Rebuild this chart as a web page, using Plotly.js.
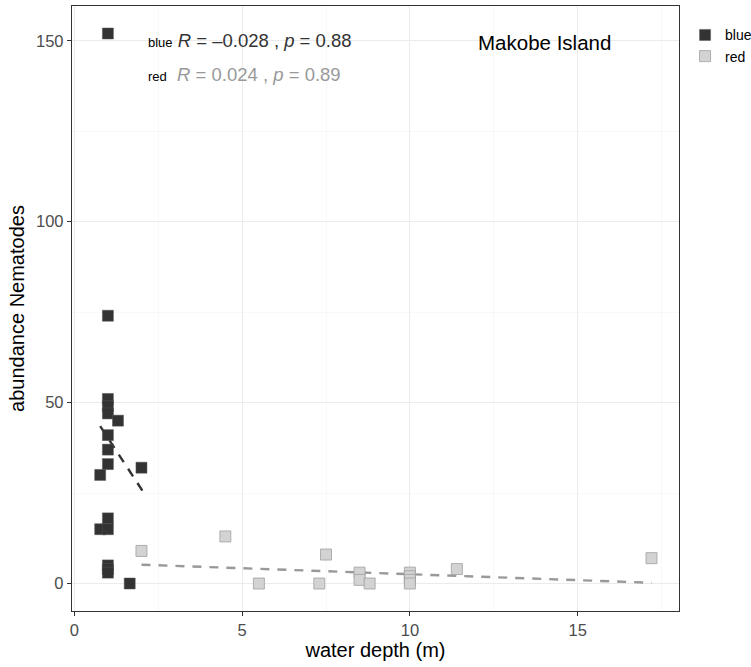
<!DOCTYPE html>
<html>
<head>
<meta charset="utf-8">
<script src="https://cdn.plot.ly/plotly-3.0.1.min.js"></script>
<style>html,body{margin:0;padding:0;background:#fff;}</style>
</head>
<body>
<div id="chart" style="width:751px;height:667px;"></div>
<script>
// Blue group (water depth m, abundance)
const blueX = [1, 1, 1, 1, 1, 1.3, 1, 1, 1, 0.77, 2.0, 1, 0.77, 1, 1, 1, 1, 1.65];
const blueY = [152, 74, 51, 49, 47, 45, 41, 37, 33, 30, 32, 18, 15, 15, 5, 4, 3, 0];
// Red group
const redX = [2.0, 4.5, 5.5, 7.3, 7.5, 8.5, 8.5, 8.8, 10, 10, 10, 10, 11.4, 17.2];
const redY = [9, 13, 0, 0, 8, 3, 1, 0, 3, 2, 1, 0, 4, 7];
// Fitted lines (endpoints)
const blueFitX = [0.77, 2.04];
const blueFitY = [43.5, 25.5];
const redFitX = [2.0, 17.2];
const redFitY = [5.2, 0.2];

const xTicks = [0, 5, 10, 15];
const yTicks = [0, 50, 100, 150];

const traces = [
  {x: blueFitX, y: blueFitY, mode: 'lines', showlegend: false, hoverinfo: 'skip',
   line: {color: '#333333', width: 2.4, dash: '9px,8px'}},
  {x: redFitX, y: redFitY, mode: 'lines', showlegend: false, hoverinfo: 'skip',
   line: {color: '#999999', width: 2.4, dash: '9px,8px'}},
  {x: blueX, y: blueY, mode: 'markers', name: 'blue',
   marker: {symbol: 'square', size: 11, color: '#333333', line: {color: '#555555', width: 0.5}}},
  {x: redX, y: redY, mode: 'markers', name: 'red',
   marker: {symbol: 'square', size: 11, color: '#d3d3d3', line: {color: '#a0a0a0', width: 0.8}}}
];

const layout = {
  width: 751, height: 667,
  margin: {l: 72, r: 72, t: 6, b: 56, autoexpand: false},
  paper_bgcolor: '#ffffff', plot_bgcolor: '#ffffff',
  font: {family: 'Liberation Sans, Arial, sans-serif', color: '#000'},
  showlegend: true,
  legend: {x: 1.01, y: 0.978, xanchor: 'left', yanchor: 'top', font: {size: 14, color: '#000'},
           bgcolor: 'rgba(0,0,0,0)', tracegroupgap: 4},
  xaxis: {
    range: [-0.07, 18.02], tickvals: xTicks, ticktext: xTicks.map(String),
    showgrid: true, gridcolor: '#ebebeb', gridwidth: 1.1, zeroline: false,
    minor: {dtick: 2.5, tick0: 0, showgrid: true, gridcolor: '#f4f4f4', gridwidth: 0.6},
    ticks: 'outside', ticklen: 4, tickcolor: '#333333', tickwidth: 1,
    tickfont: {size: 16.5, color: '#4d4d4d'},
    showline: true, linecolor: '#333333', linewidth: 1.2, mirror: true,
    title: {text: 'water depth (m)', font: {size: 20, color: '#000'}, standoff: 3}
  },
  yaxis: {
    range: [-7.6, 159.6], tickvals: yTicks, ticktext: yTicks.map(String),
    showgrid: true, gridcolor: '#ebebeb', gridwidth: 1.1, zeroline: false,
    minor: {dtick: 25, tick0: 0, showgrid: true, gridcolor: '#f4f4f4', gridwidth: 0.6},
    ticks: 'outside', ticklen: 4, tickcolor: '#333333', tickwidth: 1,
    tickfont: {size: 16.5, color: '#4d4d4d'},
    showline: true, linecolor: '#333333', linewidth: 1.2, mirror: true,
    title: {text: 'abundance Nematodes', font: {size: 20, color: '#000'}, standoff: 6}
  },
  annotations: [
    {xref: 'x', yref: 'y', x: 2.14, y: 150, xanchor: 'left', yanchor: 'middle', showarrow: false,
     text: "<span style='font-size:13px;color:#000'>blue</span> <i>R</i> = \u20130.028 , <i>p</i> = 0.88",
     font: {size: 18.5, color: '#333333'}},
    {xref: 'x', yref: 'y', x: 2.14, y: 140.6, xanchor: 'left', yanchor: 'middle', showarrow: false,
     text: "<span style='font-size:13px;color:#000'>red</span>  <i>R</i> = 0.024 , <i>p</i> = 0.89",
     font: {size: 18.5, color: '#999999'}},
    {xref: 'x', yref: 'y', x: 14.0, y: 149.5, xanchor: 'center', yanchor: 'middle', showarrow: false,
     text: 'Makobe Island', font: {size: 20.5, color: '#000'}}
  ]
};

Plotly.newPlot('chart', traces, layout, {displayModeBar: false, staticPlot: true});
</script>
</body>
</html>
